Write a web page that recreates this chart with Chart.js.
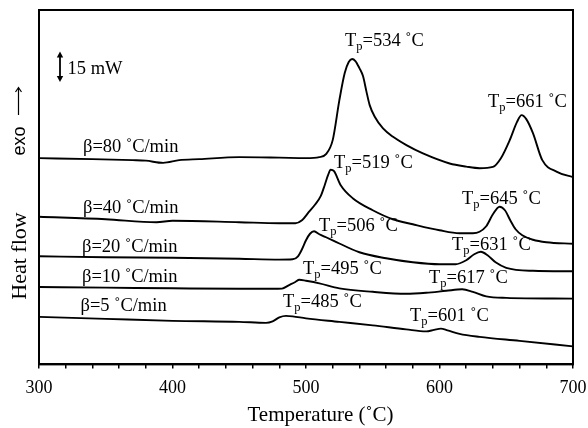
<!DOCTYPE html>
<html>
<head>
<meta charset="utf-8">
<script src="https://cdn.jsdelivr.net/npm/chart.js@4.4.1/dist/chart.umd.min.js"></script>
<style>
  html, body { margin: 0; padding: 0; background: #fff; }
</style>
</head>
<body>
<canvas id="dsc" width="588" height="428"></canvas>
<script>
// heat flow in mW (curves offset vertically), temperature in degC
const t80  = [300, 340, 370, 380, 393, 405, 420, 450, 480, 500, 510, 515, 520, 525, 529, 532, 534.5, 537, 540, 542.7, 545.2, 547.7, 551.5, 557.7, 565.2, 575.2, 587.6, 607.6, 620, 630, 640, 646, 652.6, 658, 661.5, 665, 670, 677, 688, 700];
const hf80 = [103, 102.5, 102, 101.75, 100.65, 102, 102.5, 103.5, 103.25, 103, 103.5, 105, 112, 132, 145.5, 151, 152.5, 151.5, 148, 144, 136.5, 129.5, 123.65, 117.85, 113.65, 109.5, 105.35, 100.35, 98.8, 98, 98.65, 103, 112, 121, 124.5, 122.5, 115.5, 102, 96.15, 93.5];

const t40  = [300, 350, 388, 400, 450, 480, 492, 497, 502, 507, 511, 514, 516.5, 518.5, 521, 526, 535, 550, 565, 580, 600, 615, 625, 630, 635, 640, 645, 649, 653, 657, 662, 670, 680, 700];
const hf40 = [73.75, 72.5, 71, 71.75, 71, 70.5, 70.5, 72, 76, 80, 84, 89.5, 94.5, 97.25, 96.5, 89.5, 83, 77, 72.5, 70, 67, 65.5, 65.5, 66.25, 69, 75, 78.75, 77, 72, 67.5, 64.5, 62.25, 61, 60.25];

const t20  = [300, 350, 400, 450, 480, 490, 494, 497, 500, 503, 506, 510, 515, 520, 540, 560, 580, 600, 612, 620, 626, 631, 636, 642, 650, 670, 700];
const hf20 = [54, 53.5, 53.25, 52.75, 52.35, 52.5, 54, 57.5, 62, 65.25, 66.5, 65, 63.5, 62, 56, 53, 51, 50, 50, 52, 55, 56.25, 54.5, 51, 48.25, 46.75, 46.5];

const t10  = [300, 350, 400, 450, 475, 482, 487, 492, 495, 500, 510, 525, 550, 575, 590, 605, 617, 625, 635, 650, 700];
const hf10 = [38.65, 38.35, 38, 37.75, 37.75, 37.85, 39.5, 41.15, 42.25, 41.75, 40.5, 38, 36.25, 35.25, 35.75, 36.75, 37.5, 36.25, 34, 33.25, 32.85];

const t5  = [300, 350, 400, 450, 470, 475, 480, 485, 490, 500, 525, 550, 575, 590, 596, 601, 606, 615, 630, 660, 700];
const hf5 = [23.75, 22.75, 21.75, 21.25, 20.75, 21.5, 23.5, 24.25, 24, 23, 21.25, 19.5, 17.5, 16.5, 17.25, 17.85, 17, 15.25, 13.75, 11.75, 9];

const rateLabels = ["β=80 ˚C/min", "β=40 ˚C/min", "β=20 ˚C/min", "β=10 ˚C/min", "β=5 ˚C/min"];
const peakTemps = [[534, 661], [519, 645], [506, 631], [495, 617], [485, 601]];
const xTicks = [300, 400, 500, 600, 700];

function pts(xs, ys) {
  return xs.map((x, i) => ({ x: x, y: ys[i] }));
}

const serif = '"Liberation Serif", "Times New Roman", serif';

// text positions in pixels: [x, baseline]
const ratePos = [[83, 151.5], [83, 212.5], [82, 251.5], [82, 281.5], [80.5, 311]];
const peakPos = [
  [[345, 46], [488, 107]],
  [[334, 168], [462, 204]],
  [[319, 230.5], [452, 250]],
  [[303, 274], [429, 282.5]],
  [[283, 307], [410, 320.5]]
];

function drawTp(ctx, x, y, val) {
  ctx.font = '18.5px ' + serif;
  ctx.fillText('T', x, y);
  let w = ctx.measureText('T').width;
  ctx.font = '12.5px ' + serif;
  ctx.fillText('p', x + w, y + 4);
  w += ctx.measureText('p').width;
  ctx.font = '18.5px ' + serif;
  ctx.fillText('=' + val + ' ˚C', x + w, y);
}

function arrowHead(ctx, x, y, dir, w, h) {
  ctx.beginPath();
  ctx.moveTo(x, y);
  ctx.lineTo(x - w, y + dir * h);
  ctx.lineTo(x + w, y + dir * h);
  ctx.closePath();
  ctx.fill();
}

const decor = {
  id: 'decor',
  afterDraw(chart) {
    const ctx = chart.ctx;
    const a = chart.chartArea;
    ctx.save();
    ctx.fillStyle = '#000';
    ctx.strokeStyle = '#000';

    // frame
    ctx.lineWidth = 2;
    ctx.strokeRect(a.left, a.top, a.right - a.left, a.bottom - a.top);

    ctx.textAlign = 'left';
    ctx.textBaseline = 'alphabetic';
    ctx.font = '18.5px ' + serif;
    rateLabels.forEach((s, i) => ctx.fillText(s, ratePos[i][0], ratePos[i][1]));
    peakTemps.forEach((pair, i) => {
      pair.forEach((v, j) => drawTp(ctx, peakPos[i][j][0], peakPos[i][j][1], v));
    });

    // 15 mW scale bar
    ctx.lineWidth = 1.8;
    ctx.beginPath();
    ctx.moveTo(60, 55);
    ctx.lineTo(60, 79);
    ctx.stroke();
    arrowHead(ctx, 60, 51.5, 1, 3.2, 6);
    arrowHead(ctx, 60, 82, -1, 3.2, 6);
    ctx.font = '18.5px ' + serif;
    ctx.fillText('15 mW', 67.5, 74);

    // x title
    ctx.textAlign = 'center';
    ctx.font = '21px ' + serif;
    ctx.fillText('Temperature (˚C)', 320.5, 421);

    // y title
    ctx.save();
    ctx.translate(25.5, 256);
    ctx.rotate(-Math.PI / 2);
    ctx.font = '22px ' + serif;
    ctx.fillText('Heat flow', 0, 0);
    ctx.restore();

    ctx.save();
    ctx.translate(25, 141);
    ctx.rotate(-Math.PI / 2);
    ctx.font = '18px "Liberation Sans", Arial, sans-serif';
    ctx.fillText('exo', 0, 0);
    ctx.restore();

    // exo arrow
    ctx.lineWidth = 1.2;
    ctx.beginPath();
    ctx.moveTo(18.5, 115);
    ctx.lineTo(18.5, 88);
    ctx.moveTo(15.5, 92);
    ctx.lineTo(18.5, 87.5);
    ctx.lineTo(21.5, 92);
    ctx.stroke();

    ctx.restore();
  }
};

function series(xs, ys) {
  return {
    data: pts(xs, ys),
    borderColor: '#000',
    borderWidth: 1.9,
    pointRadius: 0,
    fill: false,
    cubicInterpolationMode: 'monotone'
  };
}

new Chart(document.getElementById('dsc'), {
  type: 'line',
  data: {
    datasets: [
      series(t80, hf80),
      series(t40, hf40),
      series(t20, hf20),
      series(t10, hf10),
      series(t5, hf5)
    ]
  },
  options: {
    responsive: false,
    animation: false,
    layout: { padding: { left: 39, right: 15, top: 10, bottom: 20 } },
    plugins: {
      legend: { display: false },
      tooltip: { enabled: false }
    },
    scales: {
      x: {
        type: 'linear',
        min: 300,
        max: 700,
        // tick padding would otherwise widen the right gutter too
        afterFit: s => { s.paddingRight = 0; },
        border: { display: true, color: '#000', width: 2 },
        grid: { drawOnChartArea: false, drawTicks: true, tickLength: 4, color: '#000', lineWidth: 1.5 },
        ticks: {
          stepSize: 20,
          autoSkip: false,
          maxRotation: 0,
          padding: 9,
          color: '#000',
          font: { family: serif, size: 18 },
          callback: v => xTicks.includes(v) ? String(v) : ''
        }
      },
      y: {
        display: false,
        min: 0,
        max: 177
      }
    }
  },
  plugins: [decor]
});
</script>
</body>
</html>
